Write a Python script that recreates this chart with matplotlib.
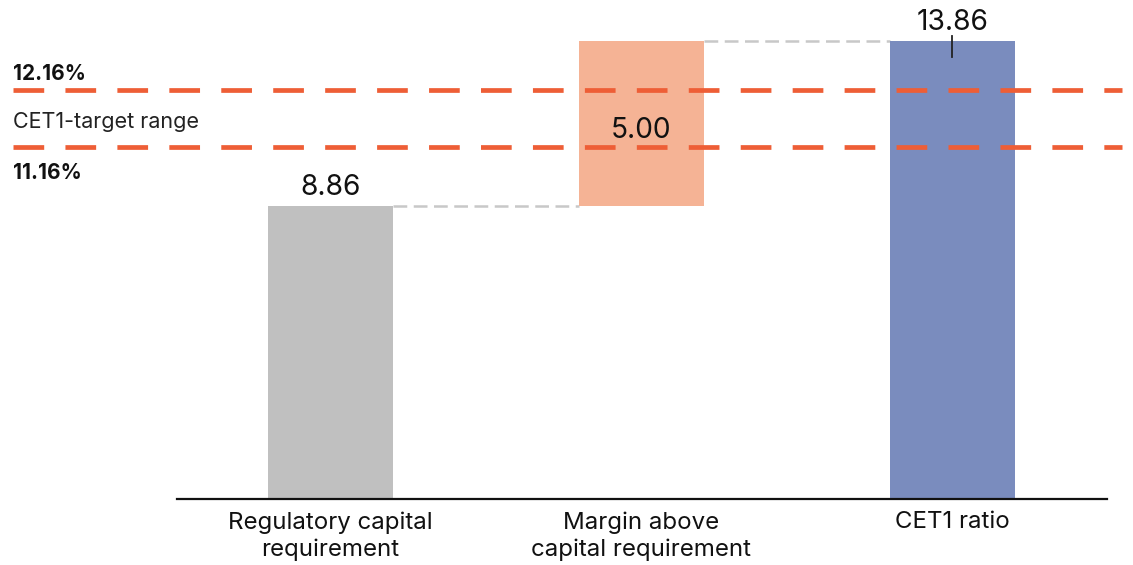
import matplotlib.pyplot as plt
import matplotlib.transforms as mtransforms

plt.rcParams['font.family'] = ['Inter', 'DejaVu Sans']

# --- Data ---
categories = ['Regulatory capital\nrequirement', 'Margin above\ncapital requirement', 'CET1 ratio']
bar_bottoms = [0.0, 8.86, 0.0]
bar_heights = [8.86, 5.00, 13.86]
value_labels = ['8.86', '5.00', '13.86']
bar_colors = ['#c0c0c0', '#f5b395', '#7a8cbe']

# target range lines (positions) and their labels
target_levels = [12.38, 10.65]
target_labels = ['12.16%', '11.16%']
range_label = 'CET1-target range'

# --- Figure ---
fig = plt.figure(figsize=(11.33, 5.65), dpi=100)
ax = fig.add_axes([177 / 1133, 66 / 565, 930 / 1133, 499 / 565])
ax.set_xlim(-0.4936, 2.497)
ax.set_ylim(0, 15.1)

x = list(range(len(categories)))
ax.bar(x, bar_heights, bottom=bar_bottoms, width=0.402, color=bar_colors, zorder=2)

# connector lines between bars
tops = [b + h for b, h in zip(bar_bottoms, bar_heights)]
for i in range(len(x) - 1):
    ax.plot([x[i] + 0.201, x[i + 1] - 0.201], [tops[i], tops[i]],
            color='#c8c8c8', lw=1.8, dashes=(5.5, 2.6), zorder=1)

# value labels
ax.text(x[0], tops[0] + 0.15, value_labels[0], ha='center', va='bottom', fontsize=20.3, color='#111111')
ax.text(x[1], bar_bottoms[1] + bar_heights[1] / 2 - 0.2, value_labels[1], ha='center', va='center',
        fontsize=20.3, color='#111111', zorder=4)
ax.text(x[2], tops[2] + 0.15, value_labels[2], ha='center', va='bottom', fontsize=20.3, color='#111111')
ax.plot([x[2], x[2]], [tops[2] + 0.15, tops[2] - 0.48], color='#222222', lw=1.3, zorder=4, clip_on=False)

# target range lines
for lvl in target_levels:
    ax.plot([-1.021, 2.545], [lvl, lvl], color='#ee5e36', lw=3.4,
            dashes=(6.5, 4.5), zorder=3, clip_on=False)

trans = mtransforms.blended_transform_factory(fig.transFigure, ax.transData)
ax.text(13 / 1133, target_levels[0] + 0.47, target_labels[0], transform=trans,
        ha='left', va='center', fontsize=15, fontweight='bold', color='#111111')
ax.text(13 / 1133, (target_levels[0] + target_levels[1]) / 2 - 0.1, range_label, transform=trans,
        ha='left', va='center', fontsize=15.5, color='#222222')
ax.text(13 / 1133, target_levels[1] - 0.8, target_labels[1], transform=trans,
        ha='left', va='center', fontsize=15, fontweight='bold', color='#111111')

# axes styling
for side in ['top', 'right', 'left']:
    ax.spines[side].set_visible(False)
ax.spines['bottom'].set_linewidth(1.6)
ax.spines['bottom'].set_color('#111111')
ax.set_yticks([])
ax.set_xticks(x)
ax.set_xticklabels(categories, fontsize=17.3, color='#111111', linespacing=1.25)
ax.tick_params(axis='x', length=0, pad=9)
ax.patch.set_visible(False)

fig.savefig('out.png', dpi=100)
